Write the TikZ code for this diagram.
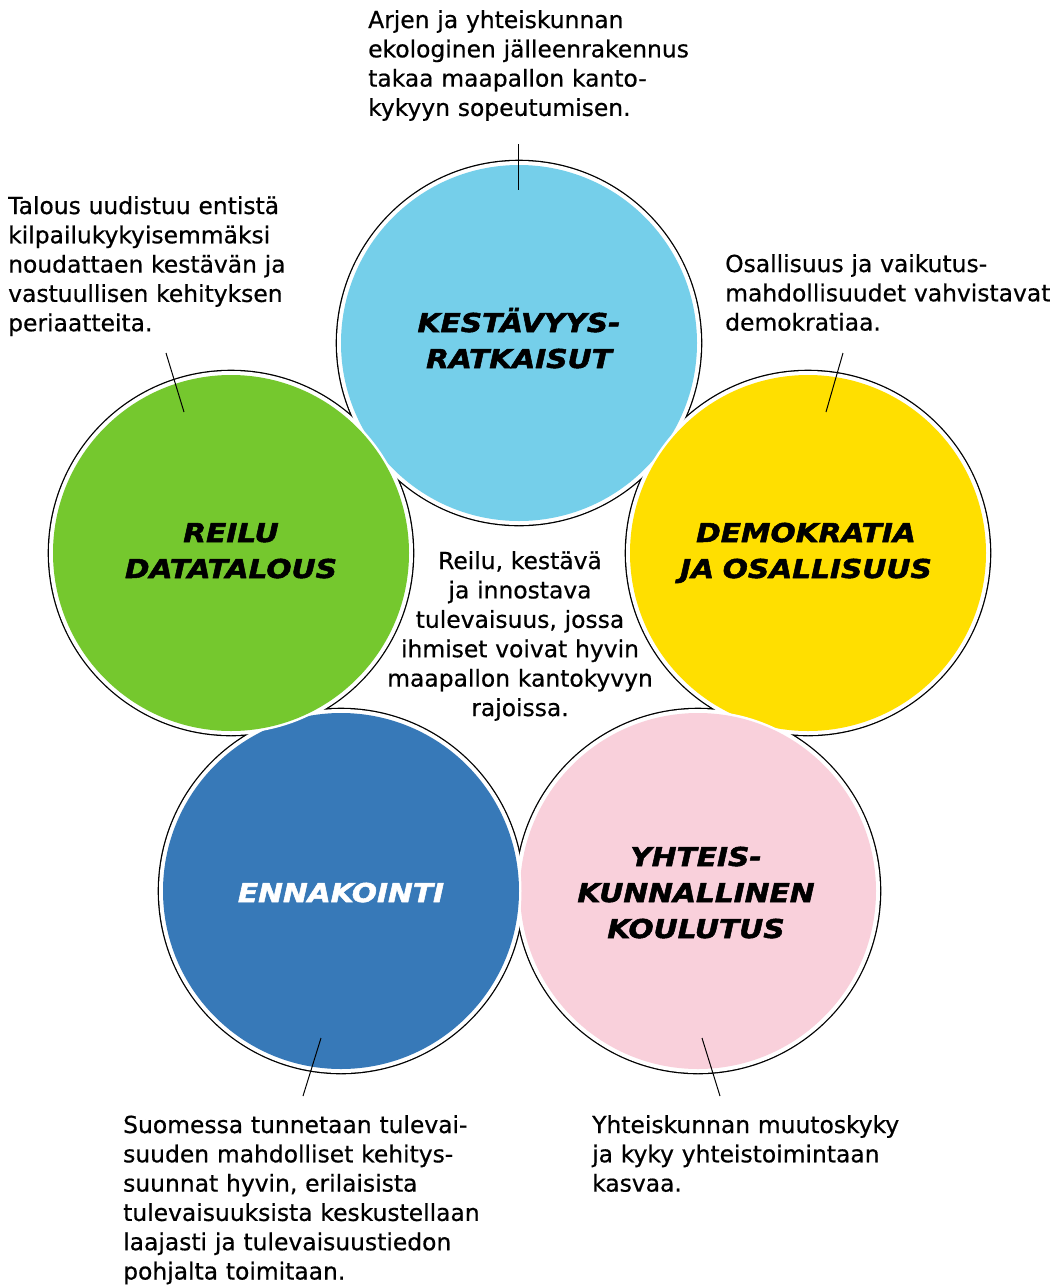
\documentclass[tikz,border=0pt]{standalone}
\usepackage{fontspec}
\setmainfont{DejaVu Sans}
\newfontfamily\lblfont[FakeBold=0.6]{DejaVu Sans}
\newfontfamily\titlefont[FakeStretch=1.14,FakeBold=2]{DejaVu Sans}
\definecolor{cblue}{HTML}{75CFEA}
\definecolor{cgreen}{HTML}{75C82E}
\definecolor{cyellow}{HTML}{FFDF00}
\definecolor{cdark}{HTML}{3779B8}
\definecolor{cpink}{HTML}{F9D0DB}
\tikzset{
  disc/.style={circle, minimum size=356pt, inner sep=0pt, outer sep=0pt},
  ttl/.style={font=\titlefont\bfseries\itshape\fontsize{26}{36}\selectfont, align=center, text width=320pt, inner sep=0pt},
  lbl/.style={font=\lblfont\fontsize{23.4}{29.3}\selectfont, align=left, text width=420pt, inner sep=0pt, anchor=base west},
  conn/.style={line width=1pt, black}
}
\begin{document}
\begin{tikzpicture}[x=1pt,y=-1pt]
\useasboundingbox (0,0) rectangle (1059,1286);
\coordinate (pA) at (519,343);
\coordinate (pB) at (808,553);
\coordinate (pC) at (698,891);
\coordinate (pD) at (341,891);
\coordinate (pE) at (231,553);
% union outline
\foreach \c in {pA,pB,pC,pD,pE}{\draw[line width=2.6pt] (\c) circle[radius=182pt];}
\foreach \c in {pA,pB,pC,pD,pE}{\fill[white] (\c) circle[radius=182pt];}
% coloured discs
\fill[white] (pA) circle[radius=180.5pt];
\node[disc, fill=cblue] (kA) at (pA) {};
\fill[white] (pB) circle[radius=180.5pt];
\node[disc, fill=cyellow] (kB) at (pB) {};
\fill[white] (pC) circle[radius=180.5pt];
\node[disc, fill=cpink] (kC) at (pC) {};
\fill[white] (pD) circle[radius=180.5pt];
\node[disc, fill=cdark] (kD) at (pD) {};
\fill[white] (pE) circle[radius=180.5pt];
\node[disc, fill=cgreen] (kE) at (pE) {};
% titles
\node[ttl, anchor=base] (tA) at (519,332) {KESTÄVYYS-\\RATKAISUT};
\node[ttl, anchor=base] (tB) at (806,542) {DEMOKRATIA\\JA OSALLISUUS};
\node[ttl, anchor=base] (tC) at (696,866) {YHTEIS-\\KUNNALLINEN\\KOULUTUS};
\node[ttl, anchor=base, text=white] (tD) at (341,902) {ENNAKOINTI};
\node[ttl, anchor=base] (tE) at (231,542) {REILU\\DATATALOUS};
% centre text
\node[font=\lblfont\fontsize{23.4}{29.4}\selectfont, align=center, text width=320pt, inner sep=0pt, anchor=base] (mid) at (520,569)
  {Reilu, kestävä\\ja innostava\\tulevaisuus, jossa\\ihmiset voivat hyvin\\maapallon kantokyvyn\\rajoissa.};
% labels
\node[lbl] (lA) at (368,28) {Arjen ja yhteiskunnan\\ekologinen jälleenrakennus\\takaa maapallon kanto-\\kykyyn sopeutumisen.};
\node[lbl] (lE) at (8,214) {Talous uudistuu entistä\\kilpailukykyisemmäksi\\noudattaen kestävän ja\\vastuullisen kehityksen\\periaatteita.};
\node[lbl] (lB) at (725,272) {Osallisuus ja vaikutus-\\mahdollisuudet vahvistavat\\demokratiaa.};
\node[lbl] (lD) at (123,1133) {Suomessa tunnetaan tulevai-\\suuden mahdolliset kehitys-\\suunnat hyvin, erilaisista\\tulevaisuuksista keskustellaan\\laajasti ja tulevaisuustiedon\\pohjalta toimitaan.};
\node[lbl] (lC) at (592,1133) {Yhteiskunnan muutoskyky\\ja kyky yhteistoimintaan\\kasvaa.};
% connectors
\coordinate (a1) at (518,144); \coordinate (a2) at (518,190);
\coordinate (e1) at (166,353); \coordinate (e2) at (184,412);
\coordinate (b1) at (843,353); \coordinate (b2) at (826,412);
\coordinate (d1) at (321,1038); \coordinate (d2) at (303,1096);
\coordinate (c1) at (702,1038); \coordinate (c2) at (720,1096);
\draw[conn] (a1) -- (a2);
\draw[conn] (e1) -- (e2);
\draw[conn] (b1) -- (b2);
\draw[conn] (d1) -- (d2);
\draw[conn] (c1) -- (c2);
\end{tikzpicture}
\end{document}
